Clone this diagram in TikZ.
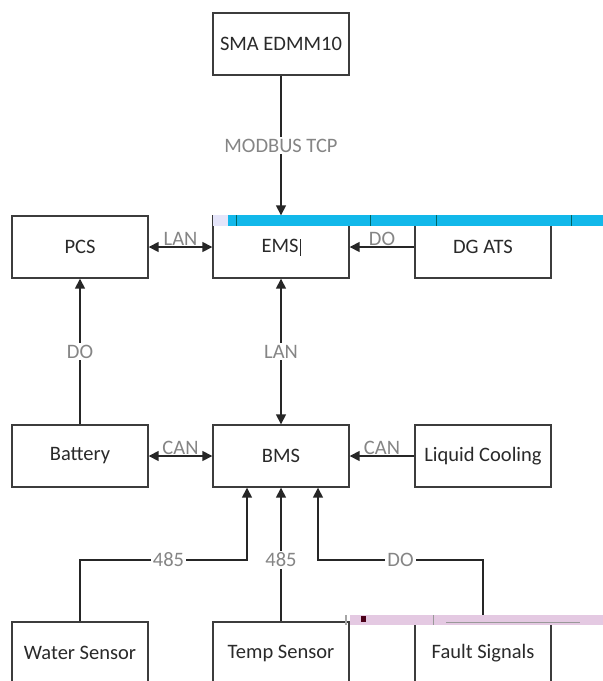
\documentclass[tikz,border=0pt]{standalone}
\usepackage{fontspec}
\setmainfont{Carlito}
\usetikzlibrary{arrows.meta}
\definecolor{boxline}{HTML}{3C3C3C}
\definecolor{boxtext}{HTML}{2A2A2A}
\definecolor{lblgray}{HTML}{858585}
\definecolor{cyanbar}{HTML}{12B8EA}
\definecolor{pinkbar}{HTML}{E4C9E2}
\tikzset{
  box/.style={draw=boxline, line width=1.4pt, fill=white, minimum width=136pt, minimum height=62pt, inner sep=0pt, font=\fontsize{20.5}{24}\selectfont, text=boxtext},
  lbl/.style={fill=white, inner sep=2pt, font=\fontsize{20.5}{24}\selectfont, text=lblgray},
  lblabove/.style={inner sep=1pt, above, font=\fontsize{20.5}{24}\selectfont, text=lblgray},
  conn/.style={draw=black!85, line width=1.6pt},
  arr/.style={conn, -{Triangle[length=10pt,width=10pt]}},
  darr/.style={conn, {Triangle[length=10pt,width=10pt]}-{Triangle[length=10pt,width=10pt]}}
}
\begin{document}
\begin{tikzpicture}[x=1pt,y=-1pt]
\useasboundingbox (0,0) rectangle (603,681);
\clip (0,0) rectangle (603,681);
\fill[white] (0,0) rectangle (603,681);
% boxes
\node[box] (sma) at (281,44) {SMA EDMM10};
\node[box] (pcs) at (80,247) {PCS};
\node[box] (ems) at (281,247) {EMS\hspace{1pt}\rule[-3pt]{0.7pt}{17pt}};
\node[box] (dg) at (483,247) {DG ATS};
\node[box] (bat) at (80,456) {Battery};
\node[box] (bms) at (281,456) {BMS};
\node[box] (liq) at (483,456) {Liquid Cooling};
\node[box] (water) at (80,653) {Water Sensor};
\node[box] (temp) at (281,653) {Temp Sensor};
\node[box] (fault) at (483,653) {Fault Signals};
% helper coordinates
\coordinate (b1) at ([xshift=-34pt]bms.south);
\coordinate (b2) at ([xshift=37pt]bms.south);
\coordinate (row) at (0,560);
% connectors
\draw[arr] (sma) -- node[lbl]{MODBUS TCP} (ems);
\draw[darr] (pcs) -- node[lblabove]{LAN} (ems);
\draw[arr] (dg) -- node[lblabove]{DO} (ems);
\draw[darr] (ems) -- node[lbl]{LAN} (bms);
\draw[arr] (bat) -- node[lbl]{DO} (pcs);
\draw[darr] (bat) -- node[lblabove]{CAN} (bms);
\draw[arr] (liq) -- node[lblabove]{CAN} (bms);
\draw[arr] (water.north) -- (water.north |- row) -- node[lbl,pos=0.53]{485} (b1 |- row) -- (b1);
\draw[arr] (temp.north) -- node[lbl,pos=0.46]{485} (bms.south);
\draw[arr] (fault.north) -- (fault.north |- row) -- node[lbl]{DO} (b2 |- row) -- (b2);
% overlay bars (screen artefacts)
\fill[cyanbar] (228,215) rectangle (603,226);
\fill[black!20!blue!10!white] (213,215) rectangle (228,226);
\draw[teal!80!black, line width=0.6pt] (236,215) -- (236,226) (370,215) -- (370,226) (436,215) -- (436,226) (571,215) -- (571,226);
\fill[pinkbar] (350,615) rectangle (603,625);
\fill[black!35] (345,615) rectangle (347,625);
\fill[black!60!purple] (361,616) rectangle (366,622);
\draw[black!40, line width=0.5pt] (433,615) -- (433,625) (446,622) -- (580,622);
\end{tikzpicture}
\end{document}
